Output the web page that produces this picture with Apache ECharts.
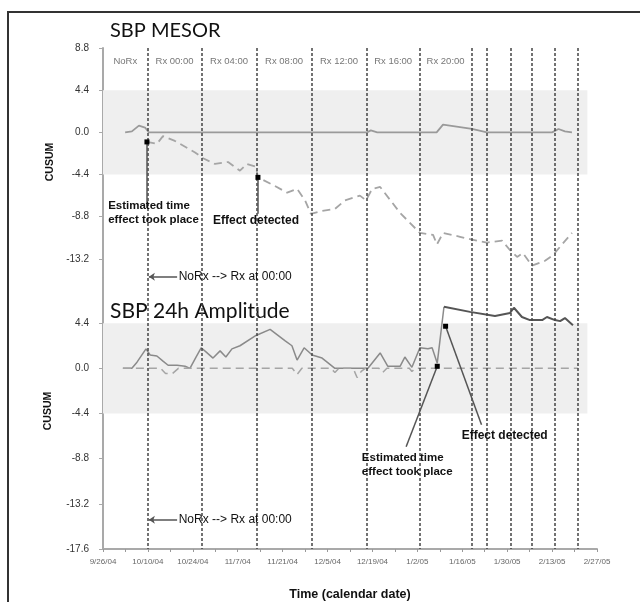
<!DOCTYPE html>
<html><head><meta charset="utf-8">
<script src="https://cdn.jsdelivr.net/npm/echarts@6/dist/echarts.min.js"></script>
<style>
html,body{margin:0;padding:0;background:#fff}
#frame{position:absolute;left:7px;top:11px;width:633px;height:591px;border-left:2px solid #333;border-top:2px solid #333;box-sizing:border-box}
#chart{position:absolute;left:0;top:0;width:640px;height:602px}
</style>
</head><body><div id="frame"></div><div id="chart"></div>
<script>
// ---- x axis: days since 9/26/04 ----
const xTickLabels = ['9/26/04','10/10/04','10/24/04','11/7/04','11/21/04','12/5/04','12/19/04','1/2/05','1/16/05','1/30/05','2/13/05','2/27/05'];
const rxChangeDays = [13.9, 30.7, 47.9, 65, 82.1, 98.8, 114.8, 119.5, 127, 133.8, 140.8, 148];
const rxPhaseLabels = ['NoRx','Rx 00:00','Rx 04:00','Rx 08:00','Rx 12:00','Rx 16:00','Rx 20:00'];
const bandLimit = 4.4;
const bandEndDay = 151;

// ---- SBP MESOR CUSUM ----
const mesorUpper = [[6.9,0],[9,0.1],[11.2,0.7],[13.1,0.5],[14.3,0],[82.3,0],[83.5,0.2],[85.5,0],[104,0],[106,0.8],[115,0.35],[119.7,0],[140,0],[142,0.35],[144,0.1],[146.2,0]];
const mesorLower = [[13.7,-1.0],[16.8,-1.2],[18.7,-0.4],[22.4,-0.9],[28.7,-2.1],[31.2,-2.7],[34.9,-3.3],[39,-3.1],[42.7,-4.0],[44.9,-3.3],[47.7,-3.6],[48.3,-4.7],[53.6,-5.6],[57.4,-6.3],[60.5,-5.9],[63,-7.1],[64.8,-8.5],[68.3,-8.2],[72.3,-8.0],[75.4,-7.1],[80.1,-6.6],[82,-7.1],[83.9,-5.9],[86.4,-5.7],[92.6,-8.4],[98.8,-10.5],[102.9,-10.7],[104.1,-11.7],[106,-10.5],[111.3,-10.9],[115,-11.2],[119.7,-11.5],[124.4,-11.3],[126.9,-12.3],[129.1,-13.0],[130.9,-12.6],[133.7,-13.9],[137.8,-13.4],[140.3,-12.8],[143.1,-11.7],[146.2,-10.5]];

// ---- SBP 24h Amplitude CUSUM ----
const ampUpperBefore = [[6.2,0],[9,0],[10.6,0.6],[13.4,1.9],[14.7,1.3],[16.8,1.2],[18.7,0.7],[20.3,0.3],[23.1,0.3],[25.6,0.2],[27.1,0],[29,1.1],[30.6,2.0],[32.1,1.6],[34.3,1.0],[36.5,1.7],[38.3,1.1],[40.2,1.9],[42.7,2.2],[47.7,3.2],[52.1,3.8],[56.7,2.7],[58.9,2.2],[60.5,0.8],[62.7,2.0],[65.2,1.3],[68.3,1.0],[72.3,0],[82.6,0],[86.4,1.5],[88.8,0.2],[92.6,0.2],[94.1,1.1],[96.3,0.1],[98.8,2.0],[101.3,1.9],[102.6,2.0],[104.2,0.5],[106.3,6.0]];
const ampUpperAfter = [[106.3,6.0],[114.4,5.5],[122.2,5.1],[126.9,5.4],[128.1,5.9],[130.6,5.0],[133.1,4.7],[136.9,4.7],[138.4,5.0],[140.9,4.7],[142.5,4.6],[144,4.9],[146.5,4.2]];
const ampLower = [[6.2,0],[18,0],[19.5,-0.5],[21.7,-0.5],[23.5,0],[59,0],[60.5,-0.6],[62,0],[71,0],[72.3,-0.4],[73.5,0],[78,0],[79.2,-0.9],[80.5,-0.3],[81.8,0],[86,0],[87.2,-0.4],[88.5,0],[95.5,0],[96.3,-0.3],[97.5,0],[148,0]];

// ---- annotations (data coordinates) ----
const mesorEstimated = [13.7,-1.0], mesorEstimatedEnd = [13.7,-7.9];
const mesorDetected = [48.3,-4.7], mesorDetectedEnd = [48.3,-8.5];
const mesorEstimatedText = [1.6,-8.4], mesorDetectedText = [34.3,-9.2];
const mesorArrow = [[23.1,-15.07],[14.3,-15.07]], mesorArrowText = [23.6,-15.07];
const ampEstimated = [104.2,0.2], ampEstimatedEnd = [94.5,-7.64];
const ampDetected = [106.8,4.1], ampDetectedEnd = [118,-5.5];
const ampEstimatedText = [80.7,-9.4], ampDetectedText = [111.8,-6.57];
const ampArrow = [[23.1,-14.75],[14.3,-14.75]], ampArrowText = [23.6,-14.75];
const arrowText = 'NoRx --> Rx at 00:00';
const estimatedText = 'Estimated time\neffect took place';
const detectedText = 'Effect detected';
const topPanelLineEnd = -15.2;

const chart = echarts.init(document.getElementById('chart'), null, {renderer:'canvas'});
const FONT = 'Liberation Sans';
const fmtY = v => (Math.abs(v) < 1e-9 ? 0 : v).toFixed(1);

function yAxis(gi, hideMin, hideMax){
  return {type:'value', gridIndex:gi, min:-17.6, max:8.8, interval:4.4,
    axisLine:{show:true, lineStyle:{color:'#a9a9a9', width:2}},
    axisTick:{show:true, length:4, lineStyle:{color:'#a9a9a9', width:1}},
    splitLine:{show:false},
    axisLabel:{formatter:fmtY, color:'#333', fontSize:10, margin:14, fontFamily:FONT,
      showMinLabel:!hideMin, showMaxLabel:!hideMax}};
}
function xAxis(gi, show){
  return {type:'value', gridIndex:gi, min:0, max:154, interval:14, show:show,
    axisLine:{show:true, onZero:false, lineStyle:{color:'#a9a9a9', width:2}},
    axisTick:{show:true, length:3, lineStyle:{color:'#999'}},
    minorTick:{show:true, splitNumber:2, length:3, lineStyle:{color:'#999'}},
    splitLine:{show:false},
    axisLabel:{formatter:v => xTickLabels[Math.round(v/14)], color:'#666', fontSize:8, margin:9, fontFamily:FONT},
    name: show ? 'Time (calendar date)' : '', nameLocation:'middle', nameGap:39,
    nameTextStyle:{fontFamily:FONT, fontWeight:'bold', fontSize:12.5, color:'#111'}};
}
function vLineCfg(yTop, yBottom){
  return {silent:true, symbol:['none','none'], label:{show:false},
    lineStyle:{color:'#444', type:[3,2], width:1.5},
    data: rxChangeDays.map(d => [{coord:[d, yTop]},{coord:[d, yBottom]}])};
}
const band = {silent:true, itemStyle:{color:'#efefef'},
  data:[[{xAxis:0, yAxis:-bandLimit},{xAxis:bandEndDay, yAxis:bandLimit}]]};
const phaseBounds = [0].concat(rxChangeDays);
const phaseAreas = {silent:true, itemStyle:{color:'rgba(0,0,0,0)'},
  label:{show:true, position:'insideTop', distance:8, color:'#777', fontSize:9.5, fontFamily:FONT},
  data: rxPhaseLabels.map((t,i)=>[{xAxis:phaseBounds[i], name:t},{xAxis:phaseBounds[i+1]}])};

const annLineStyle = {color:'#555', type:'solid', width:1.5};
function annLines(pairs){
  return {silent:true, symbol:['none','none'], symbolSize:6, label:{show:false}, lineStyle:annLineStyle,
    data: pairs.map(p => [{coord:p[0]},{coord:p[1], symbol:p[2]||'none'}])};
}
function dot(c){ return {coord:c, symbol:'rect', symbolSize:5, itemStyle:{color:'#000'}, label:{show:false}}; }
function txt(c, t, bold, size){ return {coord:c, symbol:'rect', symbolSize:0, itemStyle:{color:'rgba(0,0,0,0)'},
  label:{show:true, formatter:t, position:'right', distance:0, align:'left', verticalAlign:'middle',
    fontFamily:FONT, fontSize:size, fontWeight:bold?'bold':'normal', color:'#111', lineHeight:14}}; }

const option = {
  animation:false,
  grid:[{left:103, width:494, top:48, height:253}, {left:103, width:494, top:278, height:271}],
  xAxis:[xAxis(0,false), xAxis(1,true)],
  yAxis:[yAxis(0,true,false), yAxis(1,false,true)],
  graphic:[
    {type:'text', left:110, top:21, style:{text:'SBP MESOR', font:'20px Lato', fill:'#111'}},
    {type:'text', left:110, top:301, style:{text:'SBP 24h Amplitude', font:'21px Lato', fill:'#111'}},
    {type:'text', x:50, y:162, rotation:Math.PI/2, style:{text:'CUSUM', font:'bold 10.5px "Liberation Sans"', fill:'#111', align:'center', verticalAlign:'middle'}},
    {type:'text', x:48, y:411, rotation:Math.PI/2, style:{text:'CUSUM', font:'bold 10.5px "Liberation Sans"', fill:'#111', align:'center', verticalAlign:'middle'}}
  ],
  series:[
    {type:'line', name:'MESOR upper', xAxisIndex:0, yAxisIndex:0, data:mesorUpper, showSymbol:false,
      lineStyle:{color:'#9a9a9a', width:1.8}, markArea:band, markLine:vLineCfg(8.8, topPanelLineEnd), z:3},
    {type:'line', name:'MESOR lower', xAxisIndex:0, yAxisIndex:0, data:mesorLower, showSymbol:false,
      lineStyle:{color:'#a5a5a5', width:1.8, type:[8,5]}, markArea:phaseAreas,
      markLine:annLines([[mesorEstimated, mesorEstimatedEnd],[mesorDetected, mesorDetectedEnd],[mesorArrow[0], mesorArrow[1], 'arrow']]),
      markPoint:{silent:true, data:[dot(mesorEstimated), dot(mesorDetected),
        txt(mesorEstimatedText, estimatedText, true, 11.5), txt(mesorDetectedText, detectedText, true, 12),
        txt(mesorArrowText, arrowText, false, 12)]}, z:3},
    {type:'line', name:'Amp upper (before)', xAxisIndex:1, yAxisIndex:1, data:ampUpperBefore, showSymbol:false,
      lineStyle:{color:'#8a8a8a', width:1.5}, markArea:band, z:3},
    {type:'line', name:'Amp upper (after)', xAxisIndex:1, yAxisIndex:1, data:ampUpperAfter, showSymbol:false,
      lineStyle:{color:'#555', width:2}, markLine:vLineCfg(8.8, -17.6), z:3},
    {type:'line', name:'Amp lower', xAxisIndex:1, yAxisIndex:1, data:ampLower, showSymbol:false,
      lineStyle:{color:'#a5a5a5', width:1.5, type:[8,5]},
      markLine:annLines([[ampEstimated, ampEstimatedEnd],[ampDetected, ampDetectedEnd],[ampArrow[0], ampArrow[1], 'arrow']]),
      markPoint:{silent:true, data:[dot(ampEstimated), dot(ampDetected),
        txt(ampEstimatedText, estimatedText, true, 11.5), txt(ampDetectedText, detectedText, true, 12),
        txt(ampArrowText, arrowText, false, 12)]}, z:4}
  ]
};
chart.setOption(option);
</script></body></html>
